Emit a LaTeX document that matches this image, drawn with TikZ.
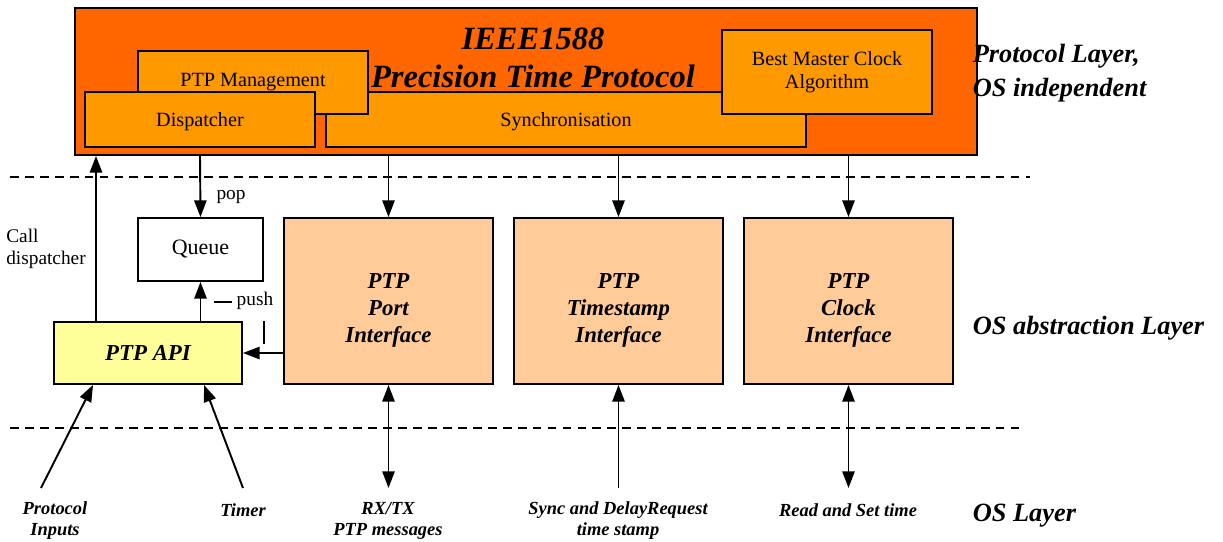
\documentclass[tikz,border=0pt]{standalone}
\usepackage{fontspec}
\setmainfont{Liberation Serif}
\usetikzlibrary{arrows.meta}

\definecolor{layerorange}{HTML}{FF6600}
\definecolor{modorange}{HTML}{FF9900}
\definecolor{peach}{HTML}{FFCC99}
\definecolor{apiyellow}{HTML}{FFFF99}

\begin{document}
\begin{tikzpicture}[x=0.02cm, y=-0.02cm, line width=1.1pt, >={Triangle[length=9.5pt,width=7pt]},
    module/.style={draw, fill=modorange, font=\fontsize{11.5}{13}\selectfont, align=center},
    iface/.style={draw, fill=peach, minimum width=4.18cm, minimum height=3.32cm},
    ifacetxt/.style={yshift=-5.5pt, font=\fontsize{13}{15.5}\selectfont\bfseries\itshape, align=center},
    oslabel/.style={font=\fontsize{10.5}{12}\selectfont\bfseries\itshape, align=center},
    layerlabel/.style={anchor=west, font=\fontsize{15}{19}\selectfont\bfseries\itshape, align=left},
    small/.style={font=\fontsize{11}{12.5}\selectfont, align=left}]
    \useasboundingbox (0,0) rectangle (1223,541);

    % Protocol layer
    \node[draw, fill=layerorange, minimum width=18.04cm, minimum height=2.94cm] (layer) at (526,81.5) {};
    \node[module, minimum width=9.6cm, minimum height=1.1cm, text depth=0pt] (sync) at (566,119.5) {Synchronisation};
    \node[module, minimum width=4.6cm, minimum height=1.26cm] (mgmt) at (253,82.5) {PTP Management};
    \node[module, minimum width=4.6cm, minimum height=1.1cm, text depth=0pt] (disp) at (200,119.5) {Dispatcher};
    \node[module, minimum width=4.2cm, minimum height=1.68cm] (bmc) at (827,72) {Best Master Clock\\Algorithm};
    \node[font=\fontsize{18.5}{21.6}\selectfont\bfseries\itshape, align=center] (title) at (533,58) {IEEE1588\\Precision Time Protocol};

    % Layer borders
    \draw[dashed, line width=0.7pt, dash pattern=on 5pt off 3.5pt] (10,177) -- (1030,177);
    \draw[dashed, line width=0.7pt, dash pattern=on 5pt off 3.5pt] (10,428) -- (1020,428);

    \node[layerlabel] (protlbl) at (966,73) {Protocol Layer,\\OS independent};
    \node[layerlabel] (abslbl) at (966,328) {OS abstraction Layer};
    \node[layerlabel] (oslbl) at (966,516) {OS Layer};

    % OS abstraction layer
    \node[draw, fill=white, minimum width=2.5cm, minimum height=1.26cm, font=\fontsize{12.5}{14}\selectfont] (queue) at (200.5,249.5) {Queue};
    \node[draw, fill=apiyellow, minimum width=3.76cm, minimum height=1.24cm, font=\fontsize{13}{15}\selectfont\bfseries\itshape] (api) at (148,353) {PTP API};
    \node[iface, label={[ifacetxt]center:PTP\\Port\\Interface}] (port) at (388.5,301) {};
    \node[iface, label={[ifacetxt]center:PTP\\Timestamp\\Interface}] (stamp) at (618.5,301) {};
    \node[iface, label={[ifacetxt]center:PTP\\Clock\\Interface}] (clock) at (848.5,301) {};

    \coordinate (cd) at (96,322);
    \draw[->] (api.north -| cd) -- (layer.south -| cd);
    \node[small] (calllbl) at (46,249) {Call\\dispatcher};
    \draw[->] (layer.south -| disp.south) -- (queue.north);
    \node[small] (poplbl) at (231,197) {pop};
    \draw[->] (api.north -| queue.south) -- (queue.south);
    \node[small] (pushlbl) at (255,301) {push};
    \draw (214,302) -- (232,302);
    \draw (264,321) -- (264,344);
    \draw[->] (port.west |- api.east) -- (api.east);

    \draw[->] (layer.south -| port.north) -- (port.north);
    \draw[->] (layer.south -| stamp.north) -- (stamp.north);
    \draw[->] (layer.south -| clock.north) -- (clock.north);

    % OS layer
    \node[oslabel] (inputs) at (55,521) {Protocol\\Inputs};
    \node[oslabel] (timer) at (243,510) {Timer};
    \node[oslabel] (rxtx) at (388,521) {RX/TX\\PTP messages};
    \node[oslabel] (tslbl) at (618,521) {Sync and DelayRequest\\time stamp};
    \node[oslabel] (rdset) at (848,510) {Read and Set time};

    \coordinate (inp) at (41,488);
    \coordinate (tim) at (243,488);
    \coordinate (rx) at (388.5,488);
    \coordinate (ts) at (618.5,488);
    \coordinate (rd) at (848.5,488);
    \draw[->] (inp) -- ([xshift=0.8cm]api.south west);
    \draw[->] (tim) -- ([xshift=3.02cm]api.south west);
    \draw[<->] (rx) -- (port.south);
    \draw[->] (ts) -- (stamp.south);
    \draw[<->] (rd) -- (clock.south);
\end{tikzpicture}
\end{document}
